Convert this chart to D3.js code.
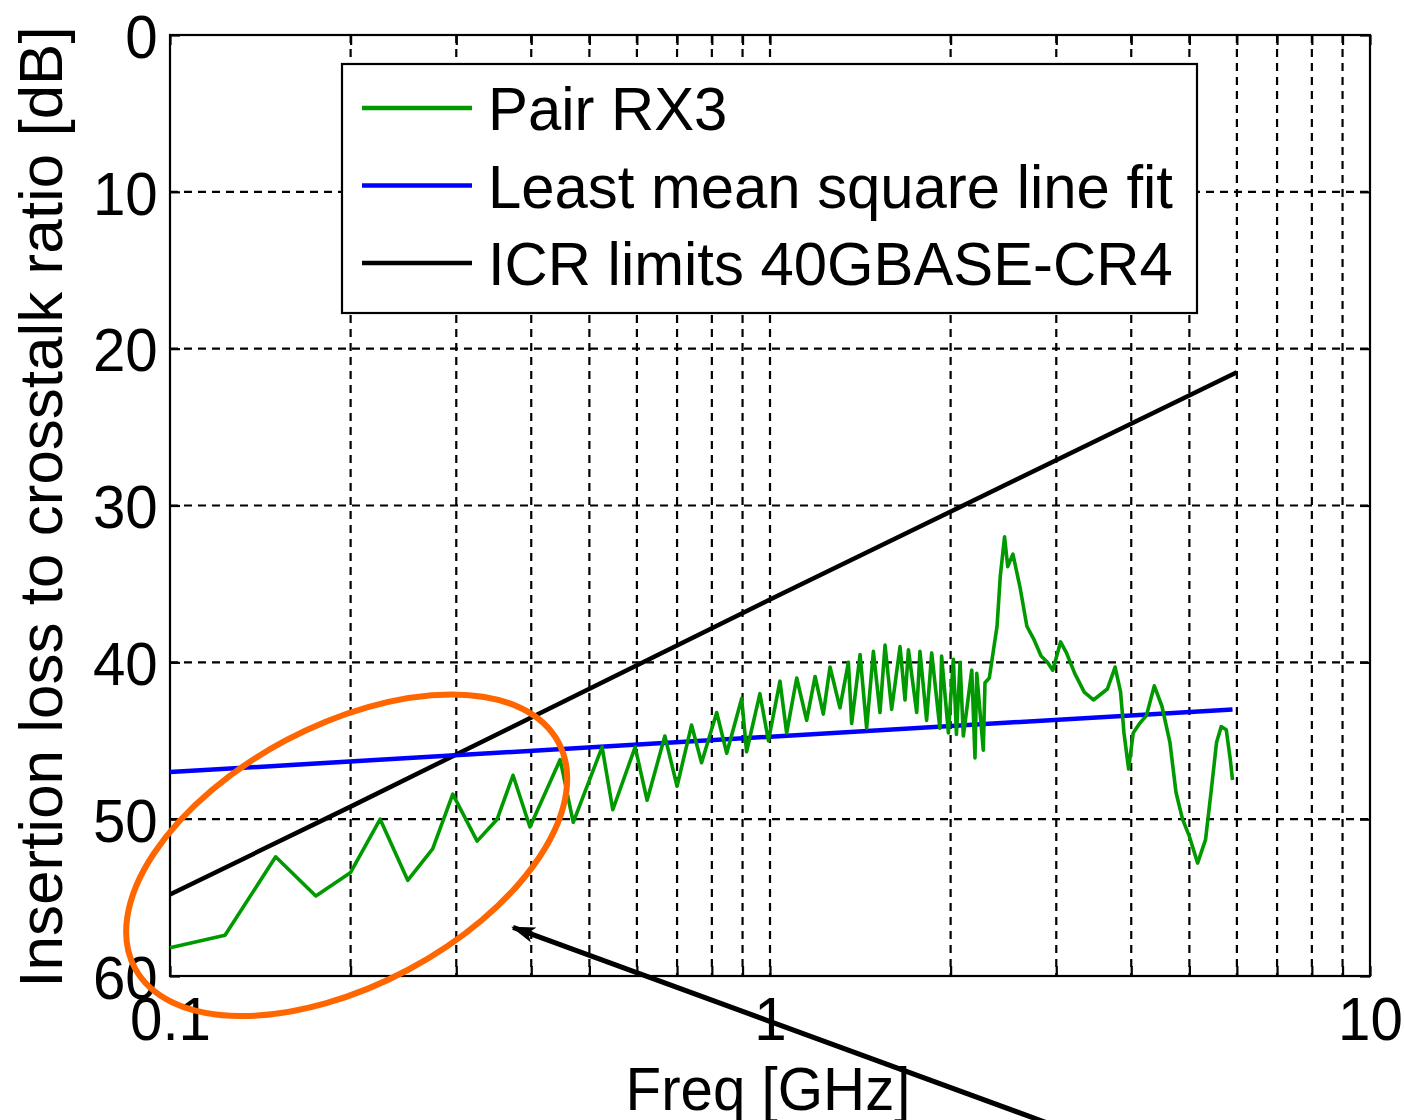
<!DOCTYPE html>
<html>
<head>
<meta charset="utf-8">
<script src="https://cdn.jsdelivr.net/npm/d3@7"></script>
<style>
  body { margin: 0; background: #fff; }
  text { font-family: "Liberation Sans", Arial, sans-serif; fill: #000; }
</style>
</head>
<body>
<div id="chart"></div>
<script>
// Measured pair RX3 (GHz, dB)
var pairFreq = [0.100, 0.1235, 0.150, 0.175, 0.200, 0.224, 0.249, 0.274, 0.296, 0.325,
  0.351, 0.373, 0.398, 0.447, 0.470, 0.525, 0.547, 0.596, 0.624, 0.668,
  0.700, 0.740, 0.769, 0.815, 0.847, 0.897, 0.914, 0.962, 0.994, 1.039,
  1.066, 1.108, 1.151, 1.189, 1.227, 1.259, 1.308, 1.351, 1.368, 1.413,
  1.449, 1.487, 1.525, 1.555, 1.595, 1.647, 1.679, 1.701, 1.756, 1.778,
  1.824, 1.860, 1.919, 1.932, 1.983, 2.021, 2.045, 2.074, 2.100, 2.169,
  2.196, 2.211, 2.267, 2.282, 2.32, 2.39, 2.42, 2.46, 2.49, 2.54,
  2.61, 2.68, 2.75, 2.83, 2.90, 2.96, 3.05, 3.12, 3.22, 3.34,
  3.46, 3.65, 3.76, 3.84, 3.89, 3.96, 4.03, 4.13, 4.24, 4.37,
  4.50, 4.64, 4.75, 4.87, 5.00, 5.16, 5.32, 5.44, 5.55, 5.65,
  5.76, 5.85, 5.90];
var pairDb = [58.2, 57.4, 52.4, 54.9, 53.4, 50.0, 53.9, 51.9, 48.4, 51.4,
  50.0, 47.2, 50.5, 46.2, 50.2, 45.4, 49.4, 45.4, 48.8, 44.7,
  47.9, 44.0, 46.4, 43.2, 45.8, 42.3, 45.7, 42.0, 45.0, 41.2,
  44.5, 41.0, 43.7, 40.9, 43.3, 40.3, 42.9, 40.0, 43.9, 39.5,
  44.2, 39.3, 43.2, 38.9, 43.0, 39.0, 42.4, 39.2, 43.2, 39.3,
  43.7, 39.4, 44.2, 39.6, 44.5, 39.8, 44.6, 40.0, 44.7, 40.5,
  46.1, 40.7, 45.6, 41.3, 41.0, 37.7, 34.5, 32.0, 33.9, 33.1,
  35.2, 37.7, 38.5, 39.6, 40.0, 40.5, 38.7, 39.4, 40.7, 41.9,
  42.4, 41.7, 40.3, 41.9, 44.5, 46.8, 44.5, 43.9, 43.4, 41.5,
  42.8, 45.1, 48.3, 50.0, 51.1, 52.8, 51.3, 48.1, 45.1, 44.1,
  44.3, 46.2, 47.5];

// Least mean square line fit
var fitFreq = [0.1, 5.9];
var fitDb = [47.0, 43.0];

// ICR limits 40GBASE-CR4
var icrFreq = [0.1, 0.2, 1.0, 6.0];
var icrDb = [54.8, 49.2, 36.0, 21.5];

var xTicks = [0.1, 0.2, 0.3, 0.4, 0.5, 0.6, 0.7, 0.8, 0.9, 1, 2, 3, 4, 5, 6, 7, 8, 9, 10];
var xLabelTicks = [0.1, 1, 10];
var yTicks = [0, 10, 20, 30, 40, 50, 60];

var legendLabels = ["Pair RX3", "Least mean square line fit", "ICR limits 40GBASE-CR4"];
var legendColors = ["#009900", "#0000ff", "#000000"];

// annotation: ellipse centre and arrow (GHz, dB)
var ringCenter = [0.197, 52.3];
var arrowTip = [0.373, 56.9];
var arrowTail = [2.96, 69.5];

var svgWidth = 1404;
var svgHeight = 1120;
var margin = { top: 35, right: 34, bottom: 144, left: 170 };
var width = svgWidth - margin.left - margin.right;
var height = svgHeight - margin.top - margin.bottom;
var squeeze = 0.94;

var svg = d3.select("#chart").append("svg")
  .attr("width", svgWidth)
  .attr("height", svgHeight);

var chartGroup = svg.append("g")
  .attr("transform", `translate(${margin.left}, ${margin.top})`);

var xScale = d3.scaleLog().domain([0.1, 10]).range([0, width]);
var yScale = d3.scaleLinear().domain([0, 60]).range([0, height]);

// grid
chartGroup.append("g").selectAll("line")
  .data(xTicks.slice(1, -1))
  .enter().append("line")
  .attr("x1", d => xScale(d)).attr("x2", d => xScale(d))
  .attr("y1", 0).attr("y2", height)
  .attr("stroke", "#000").attr("stroke-width", 2.2)
  .attr("stroke-dasharray", "8,6");

chartGroup.append("g").selectAll("line")
  .data(yTicks.slice(1, -1))
  .enter().append("line")
  .attr("x1", 0).attr("x2", width)
  .attr("y1", d => yScale(d)).attr("y2", d => yScale(d))
  .attr("stroke", "#000").attr("stroke-width", 2.2)
  .attr("stroke-dasharray", "8,6");

// axes, ticks pointing inward
var bottomAxis = d3.axisBottom(xScale).tickValues(xTicks)
  .tickSizeInner(-10).tickSizeOuter(0).tickPadding(20)
  .tickFormat(d => xLabelTicks.indexOf(d) >= 0 ? String(d) : "");
var topAxis = d3.axisTop(xScale).tickValues(xTicks)
  .tickSizeInner(-10).tickSizeOuter(0).tickFormat("");
var leftAxis = d3.axisLeft(yScale).tickValues(yTicks)
  .tickSizeInner(-10).tickSizeOuter(0).tickPadding(13);
var rightAxis = d3.axisRight(yScale).tickValues(yTicks)
  .tickSizeInner(-10).tickSizeOuter(0).tickFormat("");

var axes = [
  chartGroup.append("g").attr("transform", `translate(0, ${height})`).call(bottomAxis),
  chartGroup.append("g").call(topAxis),
  chartGroup.append("g").call(leftAxis),
  chartGroup.append("g").attr("transform", `translate(${width}, 0)`).call(rightAxis)
];
axes.forEach(function(g) {
  g.select(".domain").remove();
  g.selectAll("line").attr("stroke", "#000").attr("stroke-width", 2.2);
  g.attr("font-size", 62).attr("font-family", null);
  g.selectAll("text").attr("fill", "#000")
    .attr("transform", `scale(${squeeze}, 1)`);
});
axes[2].selectAll("text").attr("dy", "0.36em");

// frame
chartGroup.append("rect")
  .attr("width", width).attr("height", height)
  .attr("fill", "none").attr("stroke", "#000").attr("stroke-width", 2.2);

// lines
var line = d3.line().x(d => xScale(d[0])).y(d => yScale(d[1]));

chartGroup.append("path")
  .datum(icrFreq.map((f, i) => [f, icrDb[i]]))
  .attr("d", line).attr("fill", "none")
  .attr("stroke", "#000").attr("stroke-width", 4.5);

chartGroup.append("path")
  .datum(fitFreq.map((f, i) => [f, fitDb[i]]))
  .attr("d", line).attr("fill", "none")
  .attr("stroke", "#0000ff").attr("stroke-width", 4.5);

chartGroup.append("path")
  .datum(pairFreq.map((f, i) => [f, pairDb[i]]))
  .attr("d", line).attr("fill", "none")
  .attr("stroke", "#009900").attr("stroke-width", 3.6)
  .attr("stroke-linejoin", "round");

// legend
var legend = svg.append("g");
legend.append("rect")
  .attr("x", 342).attr("y", 64).attr("width", 855).attr("height", 249)
  .attr("fill", "#fff").attr("stroke", "#000").attr("stroke-width", 2.2);

legendLabels.forEach(function(label, i) {
  var ly = 108 + i * 77.5;
  legend.append("line")
    .attr("x1", 362).attr("x2", 472).attr("y1", ly).attr("y2", ly)
    .attr("stroke", legendColors[i]).attr("stroke-width", 4.5);
  legend.append("text")
    .attr("transform", `translate(488, ${ly + 22}) scale(0.965, 1)`)
    .attr("font-size", 62)
    .text(label);
});

// axis titles
svg.append("text")
  .attr("transform", `translate(768, 1110) scale(${squeeze}, 1)`)
  .attr("text-anchor", "middle")
  .attr("font-size", 62)
  .text("Freq [GHz]");

svg.append("text")
  .attr("transform", "translate(62, 507) rotate(-90)")
  .attr("text-anchor", "middle")
  .attr("font-size", 62)
  .text("Insertion loss to crosstalk ratio [dB]");

// orange ring
svg.append("ellipse")
  .attr("transform", `translate(${margin.left + xScale(ringCenter[0])}, ${margin.top + yScale(ringCenter[1])}) rotate(-28)`)
  .attr("rx", 240).attr("ry", 130)
  .attr("fill", "none").attr("stroke", "#ff6600").attr("stroke-width", 6);

// arrow
svg.append("defs").append("marker")
  .attr("id", "head")
  .attr("viewBox", "0 -10 24 20")
  .attr("refX", 22).attr("refY", 0)
  .attr("markerUnits", "userSpaceOnUse")
  .attr("markerWidth", 24).attr("markerHeight", 20)
  .attr("orient", "auto")
  .append("path")
  .attr("d", "M0,-8 L24,0 L0,8 L6,0 Z")
  .attr("fill", "#000");

svg.append("line")
  .attr("x1", margin.left + xScale(arrowTail[0]))
  .attr("y1", margin.top + yScale(arrowTail[1]))
  .attr("x2", margin.left + xScale(arrowTip[0]))
  .attr("y2", margin.top + yScale(arrowTip[1]))
  .attr("stroke", "#000").attr("stroke-width", 5)
  .attr("marker-end", "url(#head)");
</script>
</body>
</html>
